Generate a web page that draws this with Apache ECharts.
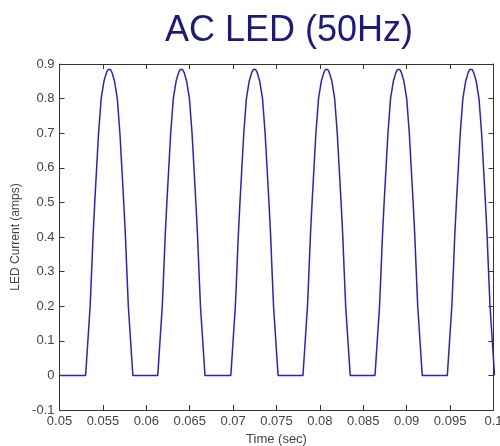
<!DOCTYPE html>
<html>
<head>
<meta charset="utf-8">
<script src="https://cdn.jsdelivr.net/npm/echarts@6/dist/echarts.min.js"></script>
<style>
  html, body { margin: 0; padding: 0; background: #fff; }
  #chart { width: 500px; height: 446px; }
</style>
</head>
<body>
<div id="chart"></div>
<script>
// pulse centres (sec)
var peakTimes = [0.05573, 0.06404, 0.07246, 0.08077, 0.08907, 0.09740];
// one pulse: time offset from centre (sec) and current (amps)
var profileOffsets = [-0.00272, -0.00246, -0.00220, -0.00203, -0.00187, -0.00167, -0.00145, -0.00123, -0.00093, -0.00061, -0.00032, -0.00014, 0,
                      0.00014, 0.00032, 0.00061, 0.00093, 0.00123, 0.00145, 0.00167, 0.00187, 0.00203, 0.00220, 0.00246, 0.00272];
var profileValues  = [0, 0.1, 0.2, 0.3, 0.4, 0.5, 0.6, 0.7, 0.8, 0.85, 0.875, 0.884, 0.887,
                      0.884, 0.875, 0.85, 0.8, 0.7, 0.6, 0.5, 0.4, 0.3, 0.2, 0.1, 0];
var xTicks = [0.05, 0.1, 0.005];
var yTicks = [-0.1, 0.9, 0.1];

var points = [[0.05, 0]];
peakTimes.forEach(function (p) {
    for (var i = 0; i < profileOffsets.length; i++) {
        points.push([p + profileOffsets[i], profileValues[i]]);
    }
});

function fmt(v) { return String(parseFloat(v.toFixed(4))); }

var axisCol = '#333';
var labelStyle = { color: '#444', fontSize: 13, fontFamily: 'Liberation Sans, Arial, sans-serif' };

var chart = echarts.init(document.getElementById('chart'));
chart.setOption({
    animation: false,
    backgroundColor: '#fff',
    title: {
        text: 'AC LED (50Hz)',
        left: 160, top: 8,
        textStyle: { color: '#1a1a80', fontSize: 36, fontWeight: 'normal', fontFamily: 'Liberation Sans, Arial, sans-serif' }
    },
    grid: { left: 59.5, right: 6.5, top: 64, bottom: 36, outerBoundsMode: 'none', containLabel: false },
    xAxis: [{
        type: 'value', min: xTicks[0], max: xTicks[1], interval: xTicks[2],
        name: 'Time (sec)', nameLocation: 'middle', nameGap: 22,
        nameTextStyle: labelStyle,
        axisLine: { onZero: false, lineStyle: { color: axisCol, width: 1 } },
        axisTick: { inside: true, length: 5, lineStyle: { color: axisCol } },
        axisLabel: Object.assign({ margin: 5, formatter: fmt, hideOverlap: false }, labelStyle),
        splitLine: { show: false }
    }, {
        type: 'value', position: 'top', min: xTicks[0], max: xTicks[1], interval: xTicks[2],
        axisLine: { show: true, onZero: false, lineStyle: { color: axisCol, width: 1 } },
        axisTick: { inside: true, length: 5, lineStyle: { color: axisCol } },
        axisLabel: { show: false },
        splitLine: { show: false }
    }],
    yAxis: [{
        type: 'value', min: yTicks[0], max: yTicks[1], interval: yTicks[2],
        name: 'LED Current (amps)', nameLocation: 'middle', nameGap: 34,
        nameTextStyle: { color: '#444', fontSize: 12, fontFamily: 'Liberation Sans, Arial, sans-serif' },
        axisLine: { show: true, onZero: false, lineStyle: { color: axisCol, width: 1 } },
        axisTick: { inside: true, length: 5, lineStyle: { color: axisCol } },
        axisLabel: Object.assign({ margin: 5, formatter: fmt }, labelStyle),
        splitLine: { show: false }
    }, {
        type: 'value', position: 'right', min: yTicks[0], max: yTicks[1], interval: yTicks[2],
        axisLine: { show: true, onZero: false, lineStyle: { color: axisCol, width: 1 } },
        axisTick: { inside: true, length: 5, lineStyle: { color: axisCol } },
        axisLabel: { show: false },
        splitLine: { show: false }
    }],
    series: [{
        type: 'line',
        data: points,
        showSymbol: false,
        clip: true,
        lineStyle: { color: '#2424c8', width: 1.5 }
    }]
});
</script>
</body>
</html>
